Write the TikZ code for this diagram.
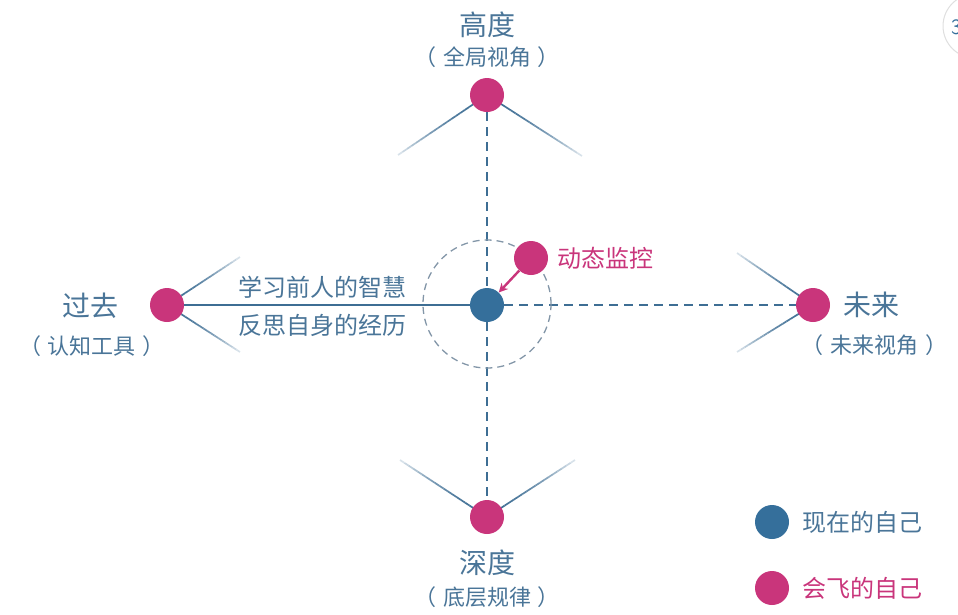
\documentclass[tikz,border=0pt]{standalone}
\usepackage{fontspec}
\newfontfamily\cjk{Noto Sans CJK SC}
\usetikzlibrary{calc,backgrounds,arrows.meta}
\definecolor{nowblue}{HTML}{356F9B}
\definecolor{flypink}{HTML}{C9357B}
\definecolor{lineblue}{HTML}{3E6E94}
\definecolor{txtblue}{HTML}{4A7598}
\definecolor{ringgray}{HTML}{8396A8}
\tikzset{
  dot/.style={circle, inner sep=0pt, minimum size=34pt},
  nowdot/.style={dot, fill=nowblue},
  flydot/.style={dot, fill=flypink},
  axisdash/.style={draw=lineblue, line width=1.9pt, dash pattern=on 9pt off 6pt},
  axissolid/.style={draw=lineblue, line width=1.9pt},
  ringline/.style={draw=ringgray, line width=1.3pt, dash pattern=on 7pt off 5pt, circle, inner sep=0pt, minimum size=128pt},
  title/.style={font=\cjk\fontsize{28}{30}\selectfont, text=txtblue, inner sep=0pt},
  sub/.style={font=\cjk\fontsize{22}{24}\selectfont, text=txtblue, inner sep=0pt},
  mid/.style={font=\cjk\fontsize{24}{26}\selectfont, text=txtblue, inner sep=0pt},
  legtxt/.style={font=\cjk\fontsize{24}{26}\selectfont, inner sep=0pt, anchor=west},
  pinkarrow/.style={draw=flypink, line width=2.4pt, -{Stealth[length=9pt,width=9pt]}},
}
\newcommand{\wingline}[2]{%
  \foreach \i [evaluate=\i as \p using {int(100-80*(\i/19)*(\i/19))}, evaluate=\i as \a using {\i/20}, evaluate=\i as \b using {(\i+1)/20}] in {0,...,19}
    {\draw[lineblue!\p!white, line width=1.7pt] ($(#1)!\a!(#2)$) -- ($(#1)!\b!(#2)$);}%
}
\newcommand{\paren}[1]{（\hspace{7pt}#1\hspace{7pt}）}
\begin{document}
\begin{tikzpicture}[x=1pt,y=-1pt]
\useasboundingbox (0,0) rectangle (958,614);
% corner artefact
\begin{scope}
\clip (0,0) rectangle (958,614);
\draw[gray!25, line width=1pt, fill=white] (975,26) circle (32);
\node[font=\sffamily\fontsize{22}{22}\selectfont, text=nowblue, anchor=west, inner sep=0pt] (cornerthree) at (951,27) {3};
\end{scope}
% nodes
\node[nowdot] (now) at (487,305) {};
\node[ringline] (ring) at (487,304) {};
\node[flydot] (top) at (487,95) {};
\node[flydot] (bot) at (487,517) {};
\node[flydot] (left) at (167,305) {};
\node[flydot] (right) at (813,305) {};
\node[flydot] (mon) at (531,258) {};
% wing ends
\coordinate (tl) at (398,155);
\coordinate (tr) at (582,156);
\coordinate (bl) at (400,460);
\coordinate (br) at (575,460);
\coordinate (ll) at (240,257);
\coordinate (lr) at (240,352);
\coordinate (rl) at (737,253);
\coordinate (rr) at (737,352);
\begin{scope}[on background layer]
\draw[axisdash] (top) -- (bot);
\draw[axissolid] (left) -- (now);
\draw[axisdash] (now) -- (right);
\wingline{top}{tl}
\wingline{top}{tr}
\wingline{bot}{bl}
\wingline{bot}{br}
\wingline{left}{ll}
\wingline{left}{lr}
\wingline{right}{rl}
\wingline{right}{rr}
\end{scope}
\draw[pinkarrow] (mon) -- (now);
% texts
\node[title] (tH) at (487,25) {高度};
\node[sub] (sH) at (487,57) {\paren{全局视角}};
\node[title] (tD) at (487,563) {深度};
\node[sub] (sD) at (487,597) {\paren{底层规律}};
\node[title] (tP) at (90,306) {过去};
\node[sub] (sP) at (92,346) {\paren{认知工具}};
\node[title] (tF) at (871,305) {未来};
\node[sub] (sF) at (874,345) {\paren{未来视角}};
\node[mid] (m1) at (322,287) {学习前人的智慧};
\node[mid] (m2) at (322,325) {反思自身的经历};
\node[legtxt, text=flypink] (monl) at (557,258) {动态监控};
% legend
\node[nowdot] (lg1) at (772,522) {};
\node[flydot] (lg2) at (772,588) {};
\node[legtxt, text=txtblue] (lt1) at (802,522) {现在的自己};
\node[legtxt, text=flypink] (lt2) at (802,588) {会飞的自己};
\end{tikzpicture}
\end{document}
